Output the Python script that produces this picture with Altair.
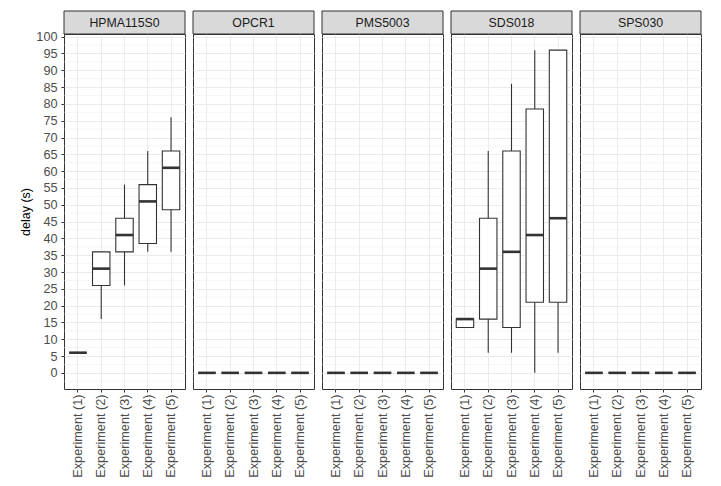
import altair as alt
import pandas as pd

sensors = ["HPMA115S0", "OPCR1", "PMS5003", "SDS018", "SPS030"]
experiments = ["Experiment (1)", "Experiment (2)", "Experiment (3)", "Experiment (4)", "Experiment (5)"]

# box statistics per sensor, one value per experiment
ymin = {
    "HPMA115S0": [6, 16, 26, 36, 36],
    "OPCR1": [0, 0, 0, 0, 0],
    "PMS5003": [0, 0, 0, 0, 0],
    "SDS018": [13.5, 6, 6, 0, 6],
    "SPS030": [0, 0, 0, 0, 0],
}
lower = {
    "HPMA115S0": [6, 26, 36, 38.5, 48.5],
    "OPCR1": [0, 0, 0, 0, 0],
    "PMS5003": [0, 0, 0, 0, 0],
    "SDS018": [13.5, 16, 13.5, 21, 21],
    "SPS030": [0, 0, 0, 0, 0],
}
middle = {
    "HPMA115S0": [6, 31, 41, 51, 61],
    "OPCR1": [0, 0, 0, 0, 0],
    "PMS5003": [0, 0, 0, 0, 0],
    "SDS018": [16, 31, 36, 41, 46],
    "SPS030": [0, 0, 0, 0, 0],
}
upper = {
    "HPMA115S0": [6, 36, 46, 56, 66],
    "OPCR1": [0, 0, 0, 0, 0],
    "PMS5003": [0, 0, 0, 0, 0],
    "SDS018": [16, 46, 66, 78.5, 96],
    "SPS030": [0, 0, 0, 0, 0],
}
ymax = {
    "HPMA115S0": [6, 36, 56, 66, 76],
    "OPCR1": [0, 0, 0, 0, 0],
    "PMS5003": [0, 0, 0, 0, 0],
    "SDS018": [16, 66, 86, 96, 96],
    "SPS030": [0, 0, 0, 0, 0],
}

y_ticks = [0, 5, 10, 15, 20, 25, 30, 35, 40, 45, 50, 55, 60, 65, 70, 75, 80, 85, 90, 95, 100]
minor_grid = [-2.5, 2.5, 7.5, 12.5, 17.5, 22.5, 27.5, 32.5, 37.5, 42.5, 47.5, 52.5,
              57.5, 62.5, 67.5, 72.5, 77.5, 82.5, 87.5, 92.5, 97.5]

rows = []
for s in sensors:
    for i, e in enumerate(experiments):
        rows.append({"sensor": s, "experiment": e, "ymin": ymin[s][i], "lower": lower[s][i],
                     "middle": middle[s][i], "upper": upper[s][i], "ymax": ymax[s][i]})
df = pd.DataFrame(rows)

PW = 121
PH = 355
DARK = "#333333"
GRID = "#EBEBEB"
FONT = "Liberation Sans"

yscale = alt.Scale(domain=[-4.8, 100.8], nice=False, zero=False)


def panel(s, first):
    d = df[df.sensor == s]
    if first:
        yaxis = alt.Axis(values=y_ticks, title="delay (s)", domain=False, grid=True,
                         gridColor=GRID, gridWidth=1)
    else:
        yaxis = alt.Axis(values=y_ticks, title=None, labels=False, ticks=False, domain=False,
                         grid=True, gridColor=GRID, gridWidth=1, labelPadding=0, tickSize=0)
    x = alt.X("experiment:N", sort=experiments,
              scale=alt.Scale(paddingInner=0, paddingOuter=0.1),
              axis=alt.Axis(title=None, labelAngle=270, grid=True, gridColor=GRID,
                            domain=False, labelPadding=2))
    minor = alt.Chart(pd.DataFrame({"g": minor_grid})).mark_rule(
        color=GRID, strokeWidth=0.5).encode(y=alt.Y("g:Q", scale=yscale, axis=yaxis))
    base = alt.Chart(d)
    whisk = base.mark_rule(color=DARK, strokeWidth=1.1).encode(
        x=x, y=alt.Y("ymin:Q", scale=yscale, axis=yaxis), y2="ymax:Q")
    box = base.mark_bar(width=alt.RelativeBandSize(0.75), fill="white", stroke=DARK,
                        strokeWidth=1.1).encode(
        x=x, y=alt.Y("lower:Q", scale=yscale, axis=yaxis), y2="upper:Q")
    med = base.mark_tick(thickness=2.6, size=17.5, color=DARK, opacity=1).encode(
        x=x, y=alt.Y("middle:Q", scale=yscale, axis=yaxis))
    sd = pd.DataFrame({"sensor": [s]})
    strip = alt.Chart(sd).mark_rect(fill="#D9D9D9", stroke=DARK, strokeWidth=1).encode(
        x=alt.value(0), x2=alt.value(PW), y=alt.value(-23), y2=alt.value(0))
    label = alt.Chart(sd).mark_text(fontSize=12.3, font=FONT, color="#1A1A1A",
                                    baseline="middle", align="center").encode(
        x=alt.value(PW / 2), y=alt.value(-11.5), text="sensor:N")
    return alt.layer(minor, whisk, box, med, strip, label).properties(width=PW, height=PH)


chart = alt.hconcat(*[panel(s, i == 0) for i, s in enumerate(sensors)], spacing=6).properties(
    padding={"left": 11, "top": 2, "right": 5, "bottom": 0},
    background="white",
).configure_view(stroke=DARK, strokeWidth=1).configure_axis(
    labelFont=FONT, labelFontSize=12.7, labelColor="#4D4D4D", tickColor=DARK, tickSize=3,
    titleFont=FONT, titleFontSize=12.5, titleColor="#000000", titleFontWeight="normal",
    titlePadding=3, labelPadding=4,
)

chart.save("out.html", embed_options={"renderer": "svg", "actions": False})
